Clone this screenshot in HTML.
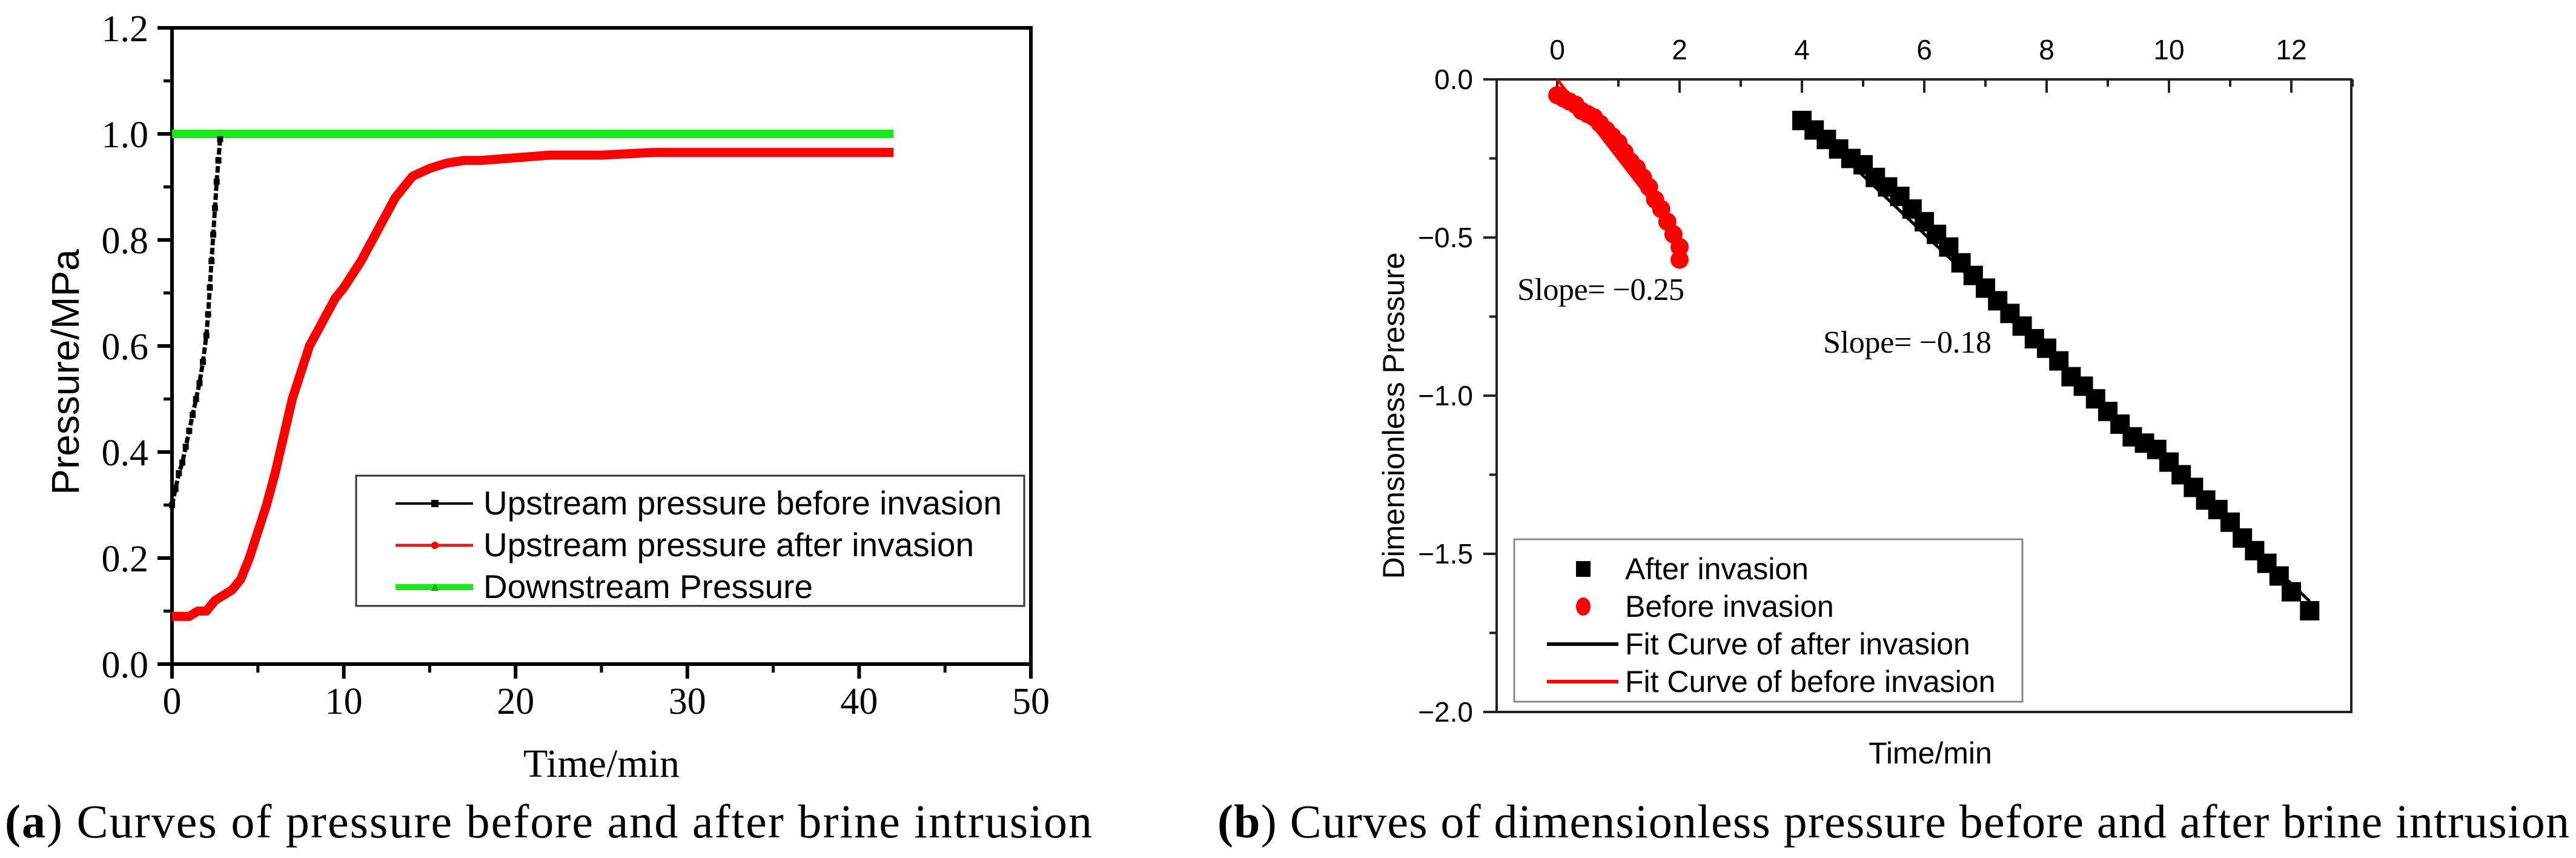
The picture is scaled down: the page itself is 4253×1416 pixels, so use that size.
<!DOCTYPE html>
<html><head><meta charset="utf-8"><style>
html,body{margin:0;padding:0;background:#fff;}
svg{display:block;}
.serif{font-family:"Liberation Serif",serif;}
.sans{font-family:"Liberation Sans",sans-serif;}
</style></head><body>
<svg id="root" width="4253" height="1416" viewBox="0 0 4253 1416" xmlns="http://www.w3.org/2000/svg">
  <g id="chartA"></g>
  <g id="chartB"></g>
  <text x="8" y="1382" class="serif" font-size="78" textLength="1795"><tspan font-weight="bold">(a</tspan>) Curves of pressure before and after brine intrusion</text>
  <text x="2010" y="1382" class="serif" font-size="78" textLength="2232"><tspan font-weight="bold">(b</tspan>) Curves of dimensionless pressure before and after brine intrusion</text>
</svg>
<script>
// ---------- Chart A data ----------
const aXTicks = [0,10,20,30,40,50];
const aYTicks = [0.0,0.2,0.4,0.6,0.8,1.0,1.2];
const aYTickLabels = ["0.0","0.2","0.4","0.6","0.8","1.0","1.2"];
const beforeX = [0,0.2,0.4,0.6,0.8,1.0,1.2,1.4,1.6,1.8,2.0,2.1,2.2,2.3,2.4,2.5,2.6,2.7,2.8];
const beforeY = [0.30,0.33,0.36,0.38,0.41,0.44,0.47,0.50,0.53,0.57,0.62,0.66,0.71,0.76,0.81,0.86,0.91,0.95,0.99];
const afterX = [0,0.5,1,1.5,2,2.5,3,3.5,4,4.5,5,5.5,6,6.5,7,7.5,8,8.5,9,9.5,10,11,12,13,14,15,16,17,18,20,22,25,28,30,35,40,42];
const afterY = [0.09,0.09,0.09,0.10,0.10,0.12,0.13,0.14,0.16,0.20,0.25,0.30,0.36,0.43,0.50,0.55,0.60,0.63,0.66,0.69,0.71,0.76,0.82,0.88,0.92,0.935,0.945,0.95,0.95,0.955,0.96,0.96,0.965,0.965,0.965,0.965,0.965];
const downX = [0,5,10,15,20,25,30,35,40,42];
const downY = [1.0,1.0,1.0,1.0,1.0,1.0,1.0,1.0,1.0,1.0];

// ---------- Chart B data ----------
const bXTicks = [0,2,4,6,8,10,12];
const bYTicks = [0,-0.5,-1.0,-1.5,-2.0];
const bYTickLabels = ["0.0","\u22120.5","\u22121.0","\u22121.5","\u22122.0"];
const redX = [0,0.1,0.2,0.3,0.4,0.5,0.6,0.7,0.8,0.9,1.0,1.1,1.2,1.3,1.4,1.5,1.6,1.7,1.8,1.9,2.0,2.0];
const redY = [-0.05,-0.06,-0.07,-0.08,-0.10,-0.11,-0.12,-0.14,-0.16,-0.18,-0.20,-0.23,-0.26,-0.28,-0.31,-0.34,-0.38,-0.41,-0.45,-0.49,-0.53,-0.57];
const blackX = [4.0,4.2,4.4,4.6,4.8,5.0,5.2,5.4,5.6,5.8,6.0,6.2,6.4,6.6,6.8,7.0,7.2,7.4,7.6,7.8,8.0,8.2,8.4,8.6,8.8,9.0,9.2,9.4,9.6,9.8,10.0,10.2,10.4,10.6,10.8,11.0,11.2,11.4,11.6,11.8,12.0,12.3];
const blackY = [-0.13,-0.16,-0.19,-0.22,-0.25,-0.27,-0.31,-0.34,-0.37,-0.41,-0.45,-0.49,-0.53,-0.58,-0.62,-0.66,-0.70,-0.74,-0.78,-0.82,-0.85,-0.89,-0.94,-0.97,-1.01,-1.05,-1.09,-1.13,-1.15,-1.17,-1.21,-1.25,-1.29,-1.33,-1.36,-1.40,-1.45,-1.49,-1.53,-1.57,-1.62,-1.68];
const fitBeforeX = [0,2];
const fitBeforeY = [0,-0.5];
const fitAfterX = [4,12.3];
const fitAfterY = [-0.12,-1.65];

const NS = "http://www.w3.org/2000/svg";
function mk(parent, tag, attrs){const e=document.createElementNS(NS,tag);for(const k in attrs)e.setAttribute(k,attrs[k]);parent.appendChild(e);return e;}

// ===== Chart A =====
(function(){
  const g = document.getElementById('chartA');
  const L=284,R=1702,T=46,B=1096;
  const sx=v=>L+(v-0)/50*(R-L);
  const sy=v=>B-(v-0)/1.2*(B-T);
  const fr=mk(g,'rect',{x:L,y:T,width:R-L,height:B-T,fill:'none',stroke:'#000','stroke-width':6});
  
  
  aXTicks.forEach(v=>{
    const t=mk(g,'line',{x1:sx(v),x2:sx(v),y1:B,y2:B+24,stroke:'#000','stroke-width':6});
    
    
    const tx=mk(g,'text',{x:sx(v),y:1178,'text-anchor':'middle','font-size':62,class:'serif'});
    tx.textContent=String(v);
    
    
  });
  for(let i=0;i<5;i++){
    const v=aXTicks[i]+5;
    const t=mk(g,'line',{x1:sx(v),x2:sx(v),y1:B,y2:B+14,stroke:'#000','stroke-width':5});
    
    
  }
  aYTicks.forEach((v,i)=>{
    const t=mk(g,'line',{x1:L-24,x2:L,y1:sy(v),y2:sy(v),stroke:'#000','stroke-width':6});
    
    
    const tx=mk(g,'text',{x:245,y:sy(v)+22,'text-anchor':'end','font-size':62,class:'serif'});
    tx.textContent=aYTickLabels[i];
    
    
  });
  for(let i=0;i<6;i++){
    const v=aYTicks[i]+0.1;
    const t=mk(g,'line',{x1:L-14,x2:L,y1:sy(v),y2:sy(v),stroke:'#000','stroke-width':5});
    
    
  }
  const yt=mk(g,'text',{x:0,y:0,transform:'translate(130,614) rotate(-90)','text-anchor':'middle','font-size':64,class:'sans'});
  yt.textContent='Pressure/MPa';
  
  
  const xt=mk(g,'text',{x:993,y:1282,'text-anchor':'middle','font-size':66,class:'serif'});
  xt.textContent='Time/min';
  
  
  const pts=(xs,ys)=>xs.map((x,i)=>sx(x)+','+sy(ys[i])).join(' ');
  const gl=mk(g,'polyline',{points:pts(downX,downY),fill:'none',stroke:'#1ee61e','stroke-width':14});
  
  
  const rl=mk(g,'polyline',{points:pts(afterX,afterY),fill:'none',stroke:'#ff0000','stroke-width':15,'stroke-linejoin':'round'});
  
  
  const bl=mk(g,'polyline',{points:pts(beforeX,beforeY),fill:'none',stroke:'#000','stroke-width':7,'stroke-dasharray':'11 4'});
  
  
  beforeX.forEach((x,i)=>{
    const m=mk(g,'rect',{x:sx(x)-5,y:sy(beforeY[i])-5,width:10,height:10,fill:'#000'});
    
    
  });
  const lg=mk(g,'g',{});
  
  
  mk(lg,'rect',{x:588,y:785,width:1103,height:215,fill:'#fff',stroke:'#333','stroke-width':3});
  const entries=[['Upstream pressure before invasion','#000',4,849],['Upstream pressure after invasion','#d42020',5,918],['Downstream Pressure','#1ee61e',10,987]];
  entries.forEach((e,i)=>{
    const cy=e[3]-18;
    const ln=mk(lg,'line',{x1:653,x2:781,y1:cy,y2:cy,stroke:e[1],'stroke-width':e[2]});
    
    
    if(i===0){mk(lg,'rect',{x:712,y:cy-6,width:12,height:12,fill:'#000'});}
    else if(i===1){mk(lg,'circle',{cx:718,cy:cy,r:6,fill:'#f00'});}
    else {mk(lg,'polygon',{points:`712,${cy+6} 718,${cy-7} 724,${cy+6}`,fill:'#0a0'});}
    const tx=mk(lg,'text',{x:798,y:e[3],'font-size':55,class:'sans'});
    tx.textContent=e[0];
    
    
  });
})();

// ===== Chart B =====
(function(){
  const g=document.getElementById('chartB');
  const L=2471,R=3882,T=131,B=1175;
  const sx=v=>2571+v*101;
  const sy=v=>T+(0-v)/2*(B-T);
  const fr=mk(g,'rect',{x:L,y:T,width:R-L,height:B-T,fill:'none',stroke:'#222','stroke-width':4});
  
  
  bXTicks.forEach(v=>{
    const t=mk(g,'line',{x1:sx(v),x2:sx(v),y1:T,y2:T+22,stroke:'#222','stroke-width':4});
    
    
    const tx=mk(g,'text',{x:sx(v),y:98,'text-anchor':'middle','font-size':46,class:'sans'});
    tx.textContent=String(v);
    
    
  });
  for(let i=0;i<7;i++){
    const v=bXTicks[i]+1;
    const t=mk(g,'line',{x1:sx(v),x2:sx(v),y1:T,y2:T+12,stroke:'#222','stroke-width':4});
    
    
  }
  bYTicks.forEach((v,i)=>{
    const t=mk(g,'line',{x1:L-22,x2:L,y1:sy(v),y2:sy(v),stroke:'#222','stroke-width':4});
    
    
    const tx=mk(g,'text',{x:2432,y:sy(v)+16,'text-anchor':'end','font-size':46,class:'sans'});
    tx.textContent=bYTickLabels[i];
    
    
  });
  for(let i=0;i<4;i++){
    const v=bYTicks[i]-0.25;
    const t=mk(g,'line',{x1:L-12,x2:L,y1:sy(v),y2:sy(v),stroke:'#222','stroke-width':4});
    
    
  }
  const yt=mk(g,'text',{x:0,y:0,transform:'translate(2318,686) rotate(-90)','text-anchor':'middle','font-size':50,class:'sans'});
  yt.textContent='Dimensionless Pressure';
  
  
  const xt=mk(g,'text',{x:3187,y:1260,'text-anchor':'middle','font-size':50,class:'sans'});
  xt.textContent='Time/min';
  
  
  const fb=mk(g,'line',{x1:sx(fitBeforeX[0]),y1:sy(fitBeforeY[0]),x2:sx(fitBeforeX[1]),y2:sy(fitBeforeY[1]),stroke:'#f00','stroke-width':5});
  
  
  redX.forEach((x,i)=>{
    const c=mk(g,'circle',{cx:sx(x),cy:sy(redY[i]),r:15,fill:'#f00'});
    
    
  });
  blackX.forEach((x,i)=>{
    const r=mk(g,'rect',{x:sx(x)-16,y:sy(blackY[i])-16,width:32,height:32,fill:'#000'});
    
    
  });
  const fa=mk(g,'line',{x1:sx(fitAfterX[0]),y1:sy(fitAfterY[0]),x2:sx(fitAfterX[1]),y2:sy(fitAfterY[1]),stroke:'#000','stroke-width':5});
  
  
  const s1=mk(g,'text',{x:2505,y:495,'font-size':52,class:'serif',textLength:276});
  s1.textContent='Slope= \u22120.25';
  
  
  const s2=mk(g,'text',{x:3010,y:582,'font-size':52,class:'serif',textLength:278});
  s2.textContent='Slope= \u22120.18';
  
  
  const lg=mk(g,'g',{});
  
  
  mk(lg,'rect',{x:2500,y:890,width:839,height:268,fill:'#fff',stroke:'#888','stroke-width':3});
  const labels=['After invasion','Before invasion','Fit Curve of after invasion','Fit Curve of before invasion'];
  const ys=[939,1001,1063,1125];
  labels.forEach((lab,i)=>{
    const cy=ys[i];
    let m;
    if(i===0) m=mk(lg,'rect',{x:2602,y:cy-13,width:24,height:26,fill:'#000'});
    else if(i===1) m=mk(lg,'ellipse',{cx:2614,cy:cy,rx:12,ry:15,fill:'#f00'});
    else m=mk(lg,'line',{x1:2554,x2:2672,y1:cy,y2:cy,stroke:i===2?'#000':'#f00','stroke-width':6});
    
    
    const tx=mk(lg,'text',{x:2683,y:cy+17,'font-size':50,class:'sans'});
    tx.textContent=lab;
    
    
  });
})();
</script>
</body></html>
